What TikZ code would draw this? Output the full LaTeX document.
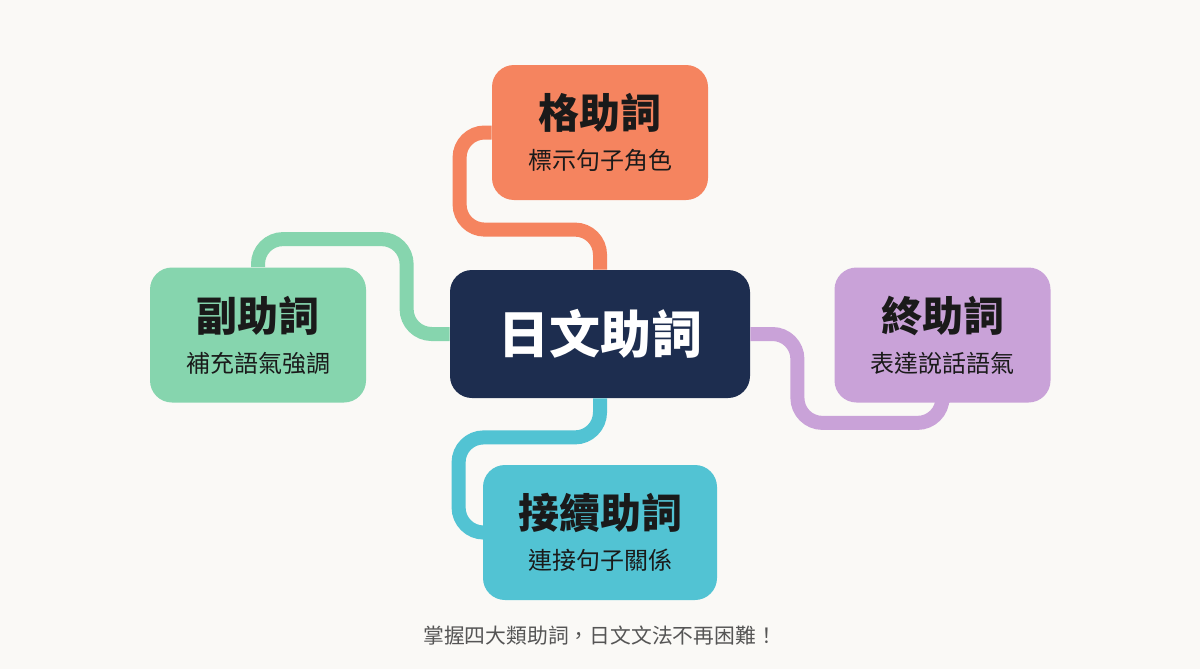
\documentclass[tikz,border=0pt]{standalone}
\usepackage{fontspec}
\setmainfont{Noto Sans CJK TC}
\definecolor{paper}{HTML}{FAF9F6}
\definecolor{ink}{HTML}{1A1A1A}
\definecolor{navy}{HTML}{1D2D4F}
\definecolor{kakucol}{HTML}{F5845F}
\definecolor{fukucol}{HTML}{86D5AE}
\definecolor{shucol}{HTML}{C9A2D8}
\definecolor{setsucol}{HTML}{52C3D3}
\definecolor{notecol}{HTML}{555555}
\tikzset{
  bubble/.style={rounded corners=11pt, align=center, text=ink, inner sep=0pt,
    minimum width=108pt, minimum height=67.5pt, font=\fontsize{12}{20.5}\selectfont},
  link/.style={line width=7pt, rounded corners=12.5pt},
}
\newcommand{\heading}[1]{{\fontsize{20.5}{20.5}\selectfont\bfseries #1}}
\begin{document}
\begin{tikzpicture}[x=0.5pt,y=-0.5pt]
      \fill[paper] (0,0) rectangle (1200,669);
      \node[bubble, fill=navy, text=white, minimum width=150pt, minimum height=64pt,
        font=\fontsize{25.5}{30}\selectfont\bfseries] (ctr) at (600,334) {日文助詞};
      \node[bubble, fill=kakucol] (kaku) at (600,132.5) {\heading{格助詞}\\標示句子角色};
      \node[bubble, fill=fukucol] (fuku) at (258,335) {\heading{副助詞}\\補充語氣強調};
      \node[bubble, fill=shucol] (shu) at (942.5,335) {\heading{終助詞}\\表達說話語氣};
      \node[bubble, fill=setsucol, minimum width=117pt] (setsu) at (600,532.5) {\heading{接續助詞}\\連接句子關係};
      \node[text=notecol, font=\fontsize{10.4}{12}\selectfont] (note) at (600,636) {掌握四大類助詞，日文文法不再困難！};
      \begin{scope}[link]
        \draw[kakucol] (ctr.north) -- ++(0,-40) -| ([xshift=-16pt]kaku.west) -- (kaku.west);
        \draw[fukucol] (ctr.west) -- ++(-43,0) |- ([yshift=14pt]fuku.north) -- (fuku.north);
        \draw[shucol] (ctr.east) -- ++(47,0) |- ([yshift=-10pt]shu.south) -- (shu.south);
        \draw[setsucol] (ctr.south) -- ++(0,39) -| ([xshift=-12pt]setsu.west) -- (setsu.west);
      \end{scope}
    \end{tikzpicture}
\end{document}
